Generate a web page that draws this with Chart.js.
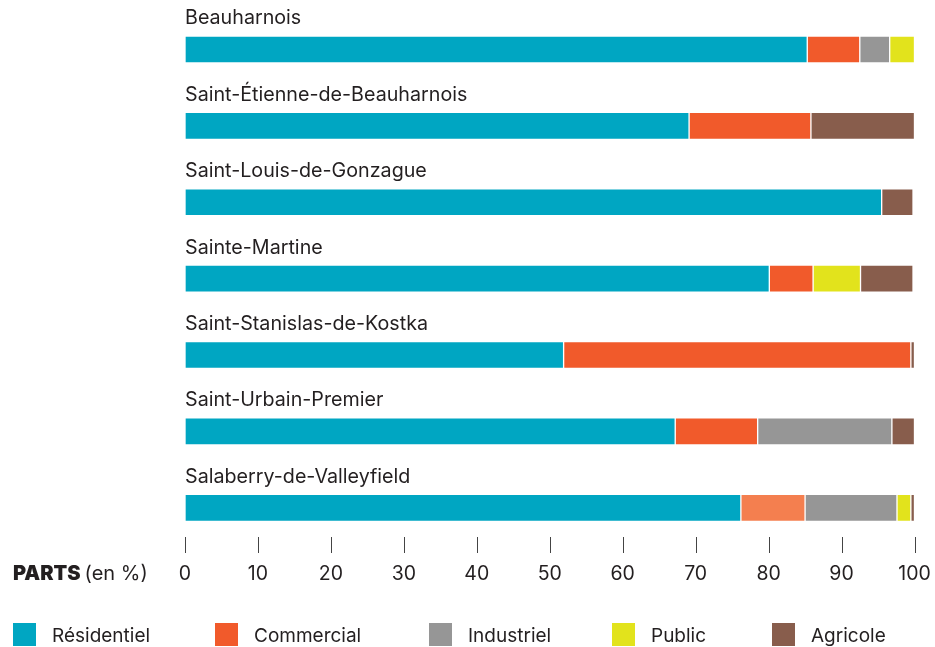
<!DOCTYPE html>
<html>
<head>
<meta charset="utf-8">
<script src="https://cdn.jsdelivr.net/npm/chart.js@4"></script>
<style>
  html, body { margin: 0; padding: 0; background: #fff; }
  #wrap { width: 935px; height: 647px; }
</style>
</head>
<body>
<div id="wrap"><canvas id="chart" width="935" height="647"></canvas></div>
<script>
// Parts des usages (en %) par municipalité
const municipalites = [
    'Beauharnois',
    'Saint-Étienne-de-Beauharnois',
    'Saint-Louis-de-Gonzague',
    'Sainte-Martine',
    'Saint-Stanislas-de-Kostka',
    'Saint-Urbain-Premier',
    'Salaberry-de-Valleyfield',
];
const residentiel = [85.3, 69.1, 95.5, 80.1, 51.9, 67.2, 76.2];
const commercial  = [7.2, 16.7, 0, 6.0, 47.6, 11.3, 8.8];
const industriel  = [4.1, 0, 0, 0, 0, 18.4, 12.6];
const publique    = [3.4, 0, 0, 6.5, 0, 0, 1.9];
const agricole    = [0, 14.2, 4.3, 7.2, 0.5, 3.1, 0.5];
const xTicks = [0, 10, 20, 30, 40, 50, 60, 70, 80, 90, 100];

const FONT = "Inter, 'Noto Sans', sans-serif";
const TEXT = '#231f20';
const COLORS = {
    residentiel: '#00a6c2',
    commercial: '#f15a2b',
    commercialLight: '#f47f4f',
    industriel: '#969696',
    public: '#e2e31c',
    agricole: '#885d4c',
};

function ds(label, data, color) {
    return {
        label,
        data,
        backgroundColor: color,
        borderColor: 'rgba(255,255,255,0.3)',
        borderWidth: 1,
        borderSkipped: false,
        barThickness: 27,
    };
}

/* category names drawn just above each bar */
const rowLabels = {
    id: 'rowLabels',
    afterDatasetsDraw(chart) {
        const { ctx, chartArea, scales } = chart;
        ctx.save();
        ctx.font = `19.7px ${FONT}`;
        ctx.fillStyle = TEXT;
        ctx.textBaseline = 'middle';
        ctx.textAlign = 'left';
        municipalites.forEach((name, i) => {
            ctx.fillText(name, chartArea.left, scales.y.getPixelForValue(i) - 31);
        });
        ctx.restore();
    },
};

/* x tick marks, axis title, legend */
const decorations = {
    id: 'decorations',
    afterDraw(chart) {
        const { ctx, chartArea, scales } = chart;
        ctx.save();
        ctx.strokeStyle = '#444';
        ctx.lineWidth = 1;
        scales.x.ticks.forEach((t) => {
            const x = Math.round(scales.x.getPixelForValue(t.value)) + 0.5;
            ctx.beginPath();
            ctx.moveTo(x, chartArea.bottom - 9);
            ctx.lineTo(x, chartArea.bottom + 7);
            ctx.stroke();
        });

        // PARTS (en %)
        const ty = 574;
        ctx.fillStyle = TEXT;
        ctx.textBaseline = 'middle';
        ctx.font = `900 20px ${FONT}`;
        ctx.fillText('PARTS', 13, ty);
        const w = ctx.measureText('PARTS ').width;
        ctx.font = `20px ${FONT}`;
        ctx.fillText('(en %)', 13 + w, ty);

        // legend
        const legendX = [13, 215, 429, 612, 772];
        ctx.font = `19px ${FONT}`;
        chart.data.datasets.forEach((d, i) => {
            const c = Array.isArray(d.backgroundColor) ? d.backgroundColor[0] : d.backgroundColor;
            ctx.fillStyle = c;
            ctx.fillRect(legendX[i], 623, 23, 23);
            ctx.fillStyle = TEXT;
            ctx.fillText(d.label, legendX[i] + 39, 636);
        });
        ctx.restore();
    },
};

new Chart(document.getElementById('chart'), {
    type: 'bar',
    data: {
        labels: municipalites,
        datasets: [
            ds('Résidentiel', residentiel, COLORS.residentiel),
            ds('Commercial', commercial, commercial.map((_, i) => (i === 6 ? COLORS.commercialLight : COLORS.commercial))),
            ds('Industriel', industriel, COLORS.industriel),
            ds('Public', publique, COLORS.public),
            ds('Agricole', agricole, COLORS.agricole),
        ],
    },
    options: {
        indexAxis: 'y',
        responsive: false,
        animation: false,
        layout: { padding: { left: 185, right: 20.5, top: 11.3, bottom: 61 } },
        plugins: { legend: { display: false }, tooltip: { enabled: false } },
        scales: {
            x: {
                stacked: true,
                min: 0,
                max: 100,
                afterBuildTicks(scale) {
                    scale.ticks = xTicks.map((v) => ({ value: v }));
                },
                afterFit(scale) {
                    scale.height = 40;
                    scale.paddingLeft = 0;   // let the "100" label hang past the bars
                    scale.paddingRight = 0;
                },
                grid: { display: false, drawTicks: false },
                border: { display: false },
                ticks: {
                    padding: 16,
                    color: TEXT,
                    font: { family: FONT, size: 19.5 },
                    maxRotation: 0,
                    autoSkip: false,
                },
            },
            y: {
                stacked: true,
                display: false,
                offset: true,
            },
        },
    },
    plugins: [rowLabels, decorations],
});
</script>
</body>
</html>
